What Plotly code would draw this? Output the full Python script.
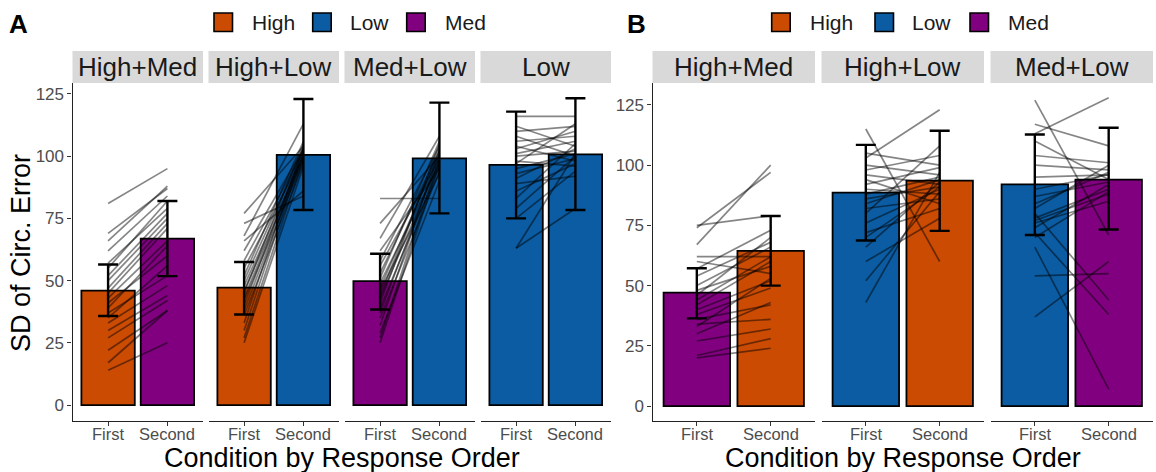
import plotly.graph_objects as go

W, H = 1156, 472
FONT = "Liberation Sans"

# ---------------- data ----------------
tick_labels = ["First", "Second"]
legend_levels = ["High", "Low", "Med"]
level_colors = {"High": "#CB4B02", "Low": "#0B5CA2", "Med": "#80007F"}

# Panel A
facets_A = ["High+Med", "High+Low", "Med+Low", "Low"]
fill_first_A = ["High", "High", "Med", "Low"]
fill_second_A = ["Med", "Low", "Low", "Low"]
mean_first_A = [46.0, 47.2, 49.8, 96.5]
mean_second_A = [66.9, 100.5, 99.1, 100.7]
lo_first_A = [35.8, 36.4, 38.4, 75.0]
hi_first_A = [56.5, 57.5, 60.8, 117.9]
lo_second_A = [51.8, 78.4, 77.0, 78.4]
hi_second_A = [82.0, 123.0, 121.5, 123.3]

# Panel B
facets_B = ["High+Med", "High+Low", "Med+Low"]
fill_first_B = ["Med", "Low", "Low"]
fill_second_B = ["High", "High", "Med"]
mean_first_B = [47.1, 88.6, 92.0]
mean_second_B = [64.4, 93.6, 94.0]
lo_first_B = [36.4, 68.7, 71.0]
hi_first_B = [57.2, 108.4, 112.7]
lo_second_B = [50.0, 72.7, 73.3]
hi_second_B = [78.9, 114.3, 115.5]

# individual participant lines (first, second)
A1_first = [81, 69, 66, 62, 57, 55, 52, 50, 47, 45, 43, 41, 39, 37, 35, 33, 30, 27, 22, 17, 14]
A1_second = [95, 87, 88, 84, 79, 82, 77, 75, 73, 71, 66, 60, 64, 52, 56, 48, 44, 42, 38, 38, 25]
A2_first = [77, 73, 68, 66, 62, 58, 55, 52, 50, 48, 46, 45, 43, 42, 40, 38, 36, 33, 30, 27, 25]
A2_second = [104, 84, 113, 86, 103, 102, 100, 106, 103, 100, 99, 105, 101, 98, 103, 100, 97, 104, 102, 99, 96]
A3_first = [83, 73, 67, 62, 58, 56, 53, 51, 49, 47, 46, 44, 43, 41, 39, 37, 35, 32, 29, 27, 25]
A3_second = [83, 100, 108, 95, 104, 99, 102, 106, 97, 101, 93, 103, 98, 105, 96, 100, 94, 102, 90, 99, 97]
A4_first = [116, 112, 110, 108, 106, 104, 103, 101, 100, 98, 97, 95, 93, 91, 89, 86, 83, 79, 75, 63, 63]
A4_second = [116, 104, 112, 100, 108, 98, 110, 106, 102, 96, 113, 101, 99, 103, 92, 97, 105, 100, 94, 79, 101]
B1_first = [75, 74, 67, 62, 60, 57, 54, 50, 48, 46, 44, 42, 40, 38, 36, 34, 33, 30, 27, 21, 20]
B1_second = [79, 97, 100, 62, 55, 73, 68, 66, 58, 70, 62, 60, 52, 49, 42, 36, 53, 43, 32, 28, 24]
B2_first = [115, 105, 103, 100, 98, 96, 94, 92, 90, 88, 86, 84, 82, 80, 76, 72, 66, 60, 52, 43, 70]
B2_second = [60, 100, 123, 96, 104, 92, 84, 99, 88, 95, 91, 94, 86, 108, 90, 82, 93, 78, 89, 97, 91]
B3_first = [127, 117, 113, 110, 104, 100, 95, 90, 87, 84, 82, 80, 78, 76, 74, 72, 70, 54, 37, 66, 77]
B3_second = [71, 108, 128, 94, 101, 98, 96, 96, 93, 97, 100, 44, 90, 85, 92, 38, 89, 55, 60, 7, 88]

y_ticks = [0, 25, 50, 75, 100, 125]

# ---------------- layout geometry (pixels) ----------------
panel_top, panel_bottom = 83, 421
strip_top = 51
x_px_A = [(72.5, 203), (208.5, 339), (344.5, 475), (480.5, 611)]
x_px_B = [(652.5, 815), (821.5, 984), (990.5, 1153)]
yrange_A = [-6.4, 129.4]
yrange_B = [-6.2, 134.1]


def px(x):
    return x / W


def py(y):
    return 1 - y / H


fig = go.Figure()
layout = dict(
    width=W, height=H, margin=dict(l=0, r=0, t=0, b=0),
    paper_bgcolor="white", plot_bgcolor="white", showlegend=False,
    font=dict(family=FONT), hovermode=False,
)
shapes, annotations = [], []

ydom = [py(panel_bottom), py(panel_top)]
yaxis_style = dict(
    domain=ydom, showgrid=False, zeroline=False,
    showline=True, linecolor="#222222", linewidth=1.2, ticks="outside",
    ticklen=4, tickcolor="#333333", tickwidth=1.1, tickvals=y_ticks,
    tickfont=dict(size=17, color="#4D4D4D", family=FONT),
)
layout["yaxis"] = dict(range=yrange_A, anchor="x", **yaxis_style)
layout["yaxis2"] = dict(range=yrange_B, anchor="x5", **yaxis_style)

panels = [
    ("A", facets_A, fill_first_A, fill_second_A, mean_first_A, mean_second_A,
     lo_first_A, hi_first_A, lo_second_A, hi_second_A, x_px_A, "y",
     [(A1_first, A1_second), (A2_first, A2_second), (A3_first, A3_second), (A4_first, A4_second)]),
    ("B", facets_B, fill_first_B, fill_second_B, mean_first_B, mean_second_B,
     lo_first_B, hi_first_B, lo_second_B, hi_second_B, x_px_B, "y2",
     [(B1_first, B1_second), (B2_first, B2_second), (B3_first, B3_second)]),
]

ax_i = 0
for (pname, facets, f1, f2, m1, m2, l1, h1, l2, h2, xpx, yname, lines) in panels:
    for k, facet in enumerate(facets):
        ax_i += 1
        xname = "x" if ax_i == 1 else f"x{ax_i}"
        xkey = "xaxis" if ax_i == 1 else f"xaxis{ax_i}"
        x0, x1 = xpx[k]
        layout[xkey] = dict(
            domain=[px(x0), px(x1)], range=[0.4, 2.6], anchor=yname,
            showgrid=False, zeroline=False, showline=True, linecolor="#222222",
            linewidth=1.2, ticks="outside", ticklen=4, tickcolor="#333333",
            tickwidth=1.1, tickvals=[1, 2], showticklabels=False,
        )
        # category tick labels, placed on the axis' own scale
        for xv, lab in zip([1, 2], tick_labels):
            annotations.append(dict(text=lab, xref=xname, yref="paper", x=xv, y=py(434),
                                    showarrow=False, xanchor="center", yanchor="middle",
                                    borderpad=0,
                                    font=dict(size=16.5, color="#4D4D4D", family=FONT)))
        # bars
        fig.add_trace(go.Bar(
            x=[1, 2], y=[m1[k], m2[k]], width=0.9, xaxis=xname, yaxis=yname,
            marker=dict(color=[level_colors[f1[k]], level_colors[f2[k]]],
                        line=dict(color="black", width=1.8)),
        ))
        # participant lines
        firsts, seconds = lines[k]
        for a, b in zip(firsts, seconds):
            fig.add_trace(go.Scatter(
                x=[1, 2], y=[a, b], mode="lines", xaxis=xname, yaxis=yname,
                line=dict(color="rgba(0,0,0,0.48)", width=1.7),
            ))
        # error bars
        fig.add_trace(go.Scatter(
            x=[1, 2], y=[m1[k], m2[k]], mode="markers", xaxis=xname, yaxis=yname,
            marker=dict(size=1, opacity=0),
            error_y=dict(type="data", symmetric=False,
                         array=[h1[k] - m1[k], h2[k] - m2[k]],
                         arrayminus=[m1[k] - l1[k], m2[k] - l2[k]],
                         color="black", thickness=2.4, width=10),
        ))
        # strip
        shapes.append(dict(type="rect", xref="paper", yref="paper",
                           x0=px(x0), x1=px(x1), y0=py(panel_top), y1=py(strip_top),
                           fillcolor="#D9D9D9", line=dict(width=0), layer="below"))
        annotations.append(dict(text=facet, xref="paper", yref="paper",
                                x=px((x0 + x1) / 2), y=py((panel_top + strip_top) / 2),
                                showarrow=False, xanchor="center", yanchor="middle",
                                font=dict(size=26, color="#1A1A1A", family=FONT)))
    # x-axis title
    annotations.append(dict(text="Condition by Response Order", xref="paper", yref="paper",
                            x=px((xpx[0][0] + xpx[-1][1]) / 2), y=py(458),
                            showarrow=False, xanchor="center", yanchor="middle",
                            borderpad=0,
                            font=dict(size=27, color="black", family=FONT)))

# y-axis title
annotations.append(dict(text="SD of Circ. Error", xref="paper", yref="paper",
                        x=px(21), y=py(253), textangle=-90, showarrow=False,
                        xanchor="center", yanchor="middle",
                        font=dict(size=27, color="black", family=FONT)))

# panel letters
for letter, lx in [("A", 18), ("B", 637)]:
    annotations.append(dict(text=f"<b>{letter}</b>", xref="paper", yref="paper",
                            x=px(lx), y=py(24), showarrow=False, xanchor="center",
                            yanchor="middle", font=dict(size=26, color="black", family=FONT)))

# legends (drawn keys)
legend_keys = [
    [(214, 250), (312.7, 348), (406.7, 443)],
    [(771.7, 808), (875, 909.5), (970, 1006)],
]
for keys in legend_keys:
    for lvl, (kx, tx) in zip(legend_levels, keys):
        shapes.append(dict(type="rect", xref="paper", yref="paper",
                           x0=px(kx), x1=px(kx + 18.5), y0=py(31.5), y1=py(13),
                           fillcolor=level_colors[lvl], line=dict(color="black", width=1.6)))
        annotations.append(dict(text=lvl, xref="paper", yref="paper", x=px(tx), y=py(22.5),
                                showarrow=False, xanchor="left", yanchor="middle",
                                font=dict(size=21, color="#1A1A1A", family=FONT)))

layout["shapes"] = shapes
layout["annotations"] = annotations
fig.update_layout(**layout)
fig.write_html("out.html")
